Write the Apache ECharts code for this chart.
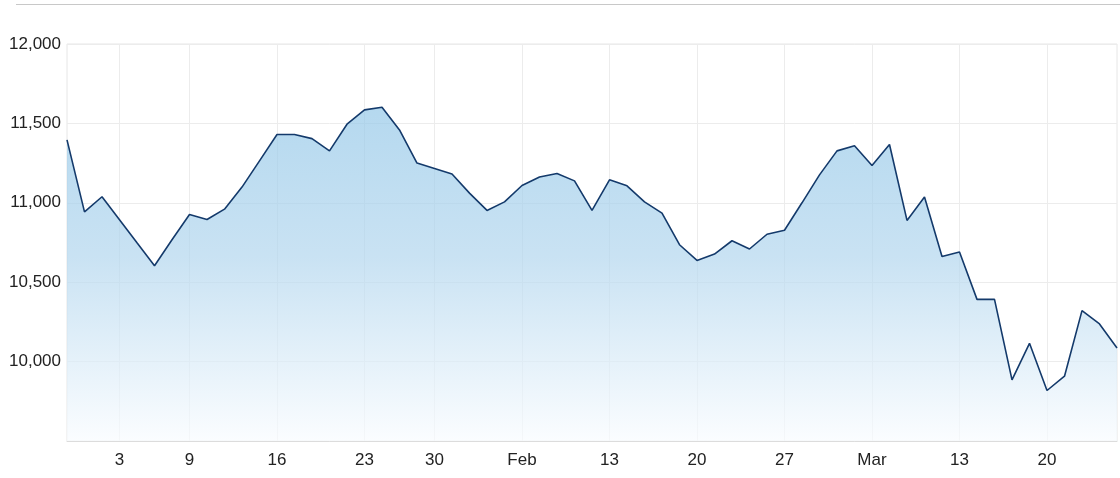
<!DOCTYPE html>
<html>
<head>
<meta charset="utf-8">
<script src="https://cdn.jsdelivr.net/npm/echarts@6/dist/echarts.min.js"></script>
<style>
html,body{margin:0;padding:0;background:#fff;}
#c{width:1120px;height:478px;}
</style>
</head>
<body>
<div id="c"></div>
<script>
const dates = [
 '2021-12-28','2021-12-29','2021-12-30',
 '2022-01-03','2022-01-04','2022-01-05','2022-01-06',
 '2022-01-09','2022-01-10','2022-01-11','2022-01-12','2022-01-13',
 '2022-01-16','2022-01-17','2022-01-18','2022-01-19','2022-01-20',
 '2022-01-23','2022-01-24','2022-01-26','2022-01-27',
 '2022-01-30','2022-01-31','2022-02-01','2022-02-02','2022-02-03',
 '2022-02-06','2022-02-07','2022-02-08','2022-02-09','2022-02-10',
 '2022-02-13','2022-02-14','2022-02-15','2022-02-16','2022-02-17',
 '2022-02-20','2022-02-21','2022-02-22','2022-02-23','2022-02-24',
 '2022-02-27','2022-02-28','2022-03-01','2022-03-02','2022-03-03',
 '2022-03-06','2022-03-07','2022-03-08','2022-03-09','2022-03-10',
 '2022-03-13','2022-03-14','2022-03-15','2022-03-16','2022-03-17',
 '2022-03-20','2022-03-21','2022-03-22','2022-03-23','2022-03-24'
];
const values = [
 11396,10943,11038,
 10893,10748,10604,10767,
 10926,10895,10960,11099,11264,
 11430,11430,11404,11327,11495,
 11585,11602,11459,11250,
 11216,11181,11061,10952,11006,
 11109,11162,11184,11138,10952,
 11145,11107,11006,10935,10736,
 10637,10677,10761,10709,10802,
 10827,11000,11176,11327,11359,
 11235,11367,10889,11036,10662,
 10690,10392,10392,9885,10115,
 9818,9908,10321,10237,10086
];
const tickDates = ['2022-01-03','2022-01-09','2022-01-16','2022-01-23','2022-01-30','2022-02-06','2022-02-13','2022-02-20','2022-02-27','2022-03-06','2022-03-13','2022-03-20'];
const tickTexts = ['3','9','16','23','30','Feb','13','20','27','Mar','13','20'];
const yMin = 9500, yMax = 12000, yStep = 500;

const tickMap = {};
tickDates.forEach((d,i)=>{ tickMap[d] = tickTexts[i]; });
const isTick = (idx, val) => tickMap[val] !== undefined;

const chart = echarts.init(document.getElementById('c'), null, {renderer:'canvas'});
chart.setOption({
  animation:false,
  backgroundColor:'#fff',
  graphic:[{type:'line', shape:{x1:16,y1:4.5,x2:1120,y2:4.5}, style:{stroke:'#c8c8c8', lineWidth:1}}],
  grid:{left:67, right:3, top:44, bottom:37, show:true, borderColor:'#e6e6e6', borderWidth:1},
  xAxis:{
    type:'category', data:dates, boundaryGap:false,
    axisLine:{show:true, lineStyle:{color:'#dcdcdc'}},
    axisTick:{show:false},
    axisLabel:{interval:isTick, formatter:v=>tickMap[v]||'', color:'#222', fontSize:17, fontFamily:'Liberation Sans, Arial, sans-serif', margin:11},
    splitLine:{show:true, interval:isTick, lineStyle:{color:'#ececec', width:1}}
  },
  yAxis:{
    type:'value', min:yMin, max:yMax, interval:yStep,
    axisLine:{show:false}, axisTick:{show:false},
    axisLabel:{showMinLabel:false, color:'#222', fontSize:17, fontFamily:'Liberation Sans, Arial, sans-serif', margin:6,
      formatter:v=>v.toLocaleString('en-US')},
    splitLine:{show:true, lineStyle:{color:'#ececec', width:1}}
  },
  series:[{
    type:'line', data:values, symbol:'none',
    lineStyle:{color:'#143a6b', width:1.6},
    areaStyle:{opacity:0.7, color:new echarts.graphic.LinearGradient(0,0,0,1,[
      {offset:0, color:'#95c8e8'},
      {offset:0.45, color:'#b2d6ee'},
      {offset:1, color:'#f9fcff'}
    ]), origin:'start'}
  }]
});
</script>
</body>
</html>
